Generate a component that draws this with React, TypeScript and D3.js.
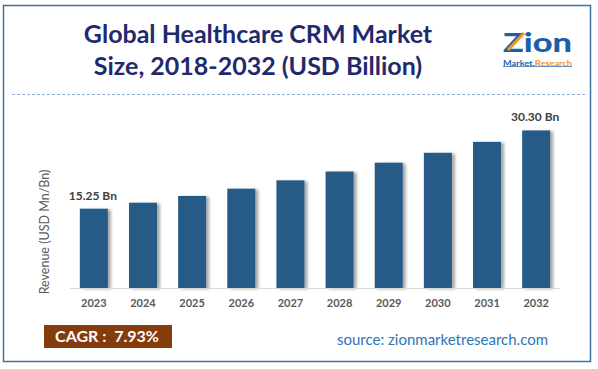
import React from 'react';
import * as d3 from 'd3';

const years = ['2023', '2024', '2025', '2026', '2027', '2028', '2029', '2030', '2031', '2032'];
const revenue = [15.25, 16.4, 17.7, 19.1, 20.7, 22.4, 24.1, 26.0, 28.1, 30.3];
const valueLabels = ['15.25 Bn', '', '', '', '', '', '', '', '', '30.30 Bn'];
const titleLines = ['Global Healthcare CRM Market', 'Size, 2018-2032 (USD Billion)'];
const cagrText = 'CAGR :  7.93%';
const sourceText = 'source: zionmarketresearch.com';

const W = 598;
const H = 369;
const FONT = 'Lato, "Open Sans", sans-serif';

const App = () => {
    //band scale for years
    const x = d3.scaleBand<string>()
        .domain(years)
        .range([70, 560])
        .paddingInner(0.43)
        .paddingOuter(0.2);

    //linear scale for revenue
    const y = d3.scaleLinear()
        .domain([0, 35])
        .range([288, 106]);

    return (
        <div style={{ position: 'absolute', left: 0, top: 0 }}>
            <svg width={W} height={H} style={{ display: 'block', fontFamily: FONT }}>
                <defs>
                    <filter id="barShadow" x="-20%" y="-5%" width="160%" height="110%">
                        <feDropShadow dx="3" dy="1" stdDeviation="1.4" floodColor="#000" floodOpacity="0.35" />
                    </filter>
                </defs>
                <rect x={0} y={0} width={W} height={H} fill="#fff" />
                <rect x={3.5} y={5.5} width={587} height={356} fill="none" stroke="#41719c" strokeWidth={1.5} />

                {/* title */}
                {titleLines.map((t, i) => (
                    <text key={t} x={258} y={43 + i * 32} textAnchor="middle" fontSize={25} fontWeight="bold" fill="#1f2a6e">
                        {t}
                    </text>
                ))}

                {/* logo */}
                <g>
                    <text x={503} y={52} fontSize={27} fontWeight="900" fill="#1b5faa" textLength={69} lengthAdjust="spacingAndGlyphs">Zion</text>
                    <path d="M508,50 L524,33" stroke="#f7931e" strokeWidth={3} />
                    <text x={503} y={65.5} fontSize={8} fontWeight="bold" fill="#1b5faa" textLength={69} lengthAdjust="spacingAndGlyphs">
                        Market.<tspan fill="#f7931e">Research</tspan>
                    </text>
                    <line x1={503} x2={572} y1={66.5} y2={66.5} stroke="#1b5faa" strokeWidth={0.7} />
                </g>

                {/* dashed separator */}
                <line x1={12} x2={586} y1={94.5} y2={94.5} stroke="#8faadc" strokeWidth={1} strokeDasharray="3,2" />

                {/* bars */}
                {years.map((yr, i) => (
                    <rect key={yr} x={x(yr)} y={y(revenue[i])} width={x.bandwidth()} height={y(0) - y(revenue[i])}
                        fill="#275a87" filter="url(#barShadow)" />
                ))}

                {/* value labels */}
                {years.map((yr, i) => valueLabels[i] ? (
                    <text key={'v' + yr} x={(x(yr) as number) + x.bandwidth() / 2 - 1} y={y(revenue[i]) - 9}
                        textAnchor="middle" fontSize={12} fontWeight="bold" fill="#404040">
                        {valueLabels[i]}
                    </text>
                ) : null)}

                {/* x axis */}
                <line x1={70} x2={560} y1={288.5} y2={288.5} stroke="#d9d9d9" strokeWidth={1} />
                {years.map(yr => (
                    <text key={'t' + yr} x={(x(yr) as number) + x.bandwidth() / 2} y={307}
                        textAnchor="middle" fontSize={11} fontWeight="bold" fill="#595959">
                        {yr}
                    </text>
                ))}

                {/* y axis title */}
                <text transform="translate(49,232) rotate(-90)" textAnchor="middle" fontSize={12.5} fill="#595959">
                    Revenue (USD Mn/Bn)
                </text>

                {/* CAGR box */}
                <rect x={44} y={325} width={128} height={23} fill="#843c0c" />
                <text x={107} y={342} textAnchor="middle" fontSize={16} fontWeight="bold" fill="#fff" style={{ whiteSpace: 'pre' }}>{cagrText}</text>

                {/* source */}
                <text x={337} y={345} fontSize={15} fill="#2e75b6">{sourceText}</text>
            </svg>
        </div>
    );
};

export default App;
